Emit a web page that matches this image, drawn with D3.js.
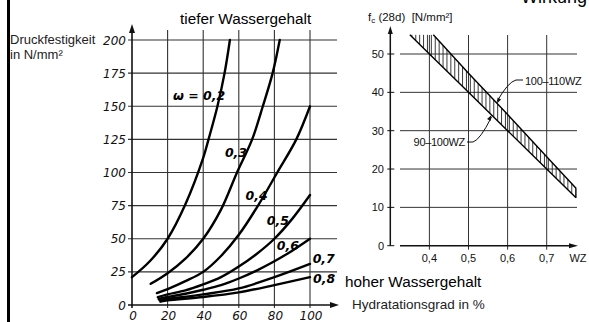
<!DOCTYPE html>
<html>
<head>
<meta charset="utf-8">
<script src="https://cdn.jsdelivr.net/npm/d3@7"></script>
<style>
  html, body { margin: 0; padding: 0; background: #fff; }
  svg { display: block; }
</style>
</head>
<body>
<div id="chart"></div>
<script>
// left chart: Druckfestigkeit vs Hydratationsgrad, one curve per w/z value
const hydrTicks = [0, 20, 40, 60, 80, 100];
const strengthTicks = [0, 25, 50, 75, 100, 125, 150, 175, 200];

const omega02 = [[0, 21], [10, 33], [20, 50], [30, 76], [40, 111], [43, 125], [48, 150], [52, 175], [55, 200]];
const omega03 = [[10.5, 16], [20, 24], [30, 35], [40, 50], [50, 72], [59, 100], [67.5, 125], [73.5, 150], [79, 175], [83, 200]];
const omega04 = [[14, 9], [20, 12], [30, 18], [40, 25], [50, 37], [60, 53], [70.8, 75], [81.6, 100], [92.3, 125], [100, 150]];
const omega05 = [[14.5, 6], [20, 8], [30, 11], [40, 15.5], [50, 21], [60, 29], [70, 38.5], [80, 50], [90, 65], [100, 83]];
const omega06 = [[15, 4.5], [20, 6], [30, 8.5], [40, 11.5], [50, 15], [60, 20], [70, 26], [80, 33], [90, 41], [100, 50]];
const omega07 = [[15.5, 3.5], [20, 4.5], [40, 8], [60, 12.5], [80, 21], [100, 31]];
const omega08 = [[16, 2.5], [20, 3.5], [40, 6], [60, 9.5], [80, 15], [100, 21]];
const omegaNames = ["ω = 0,2", "0,3", "0,4", "0,5", "0,6", "0,7", "0,8"];

// right chart: fc(28d) vs WZ, hatched band between two cement contents
const wzTicks = [0.4, 0.5, 0.6, 0.7];
const wzTickNames = ["0,4", "0,5", "0,6", "0,7"];
const fcTicks = [0, 10, 20, 30, 40, 50];
const band90 = [[0.35, 55], [0.4, 50], [0.5, 40], [0.6, 30], [0.7, 20], [0.775, 12.5]];
const band100 = [[0.41, 55], [0.5, 45], [0.6, 34.2], [0.7, 23.2], [0.775, 15]];
const bandNames = ["100–110WZ", "90–100WZ"];

const width = 589, height = 322;
const svg = d3.select("#chart").append("svg")
    .attr("width", width)
    .attr("height", height);

const ink = "#111";
const numFont = "DejaVu Sans, sans-serif";
const txtFont = "Liberation Sans, Arial, sans-serif";

// border line on the left
svg.append("line")
    .attr("x1", 8.5).attr("x2", 8.5).attr("y1", 0).attr("y2", height)
    .attr("stroke", "#000").attr("stroke-width", 3);

// top cut-off text (only its lower edge is inside the picture)
svg.append("text")
    .attr("x", 587).attr("y", 3)
    .attr("text-anchor", "end")
    .attr("font-family", txtFont).attr("font-size", 18)
    .attr("fill", "#000")
    .text("Wirkung");

// ---------- left chart ----------
const xL = d3.scaleLinear().domain([0, 100]).range([132, 310]);
const yL = d3.scaleLinear().domain([0, 200]).range([305, 40]);

const gl = svg.append("g");

// gridlines
gl.selectAll(".hgrid").data(strengthTicks.slice(1)).join("line")
    .attr("x1", xL(0) - 4).attr("x2", 337)
    .attr("y1", d => yL(d)).attr("y2", d => yL(d))
    .attr("stroke", "#333").attr("stroke-width", 1.1);
gl.selectAll(".vgrid").data(hydrTicks.slice(1)).join("line")
    .attr("x1", d => xL(d)).attr("x2", d => xL(d))
    .attr("y1", yL(0) + 3).attr("y2", 30)
    .attr("stroke", "#333").attr("stroke-width", 1.1);

// axes with arrows
gl.append("line")
    .attr("x1", xL(0)).attr("x2", xL(0)).attr("y1", yL(0) + 3).attr("y2", 30)
    .attr("stroke", ink).attr("stroke-width", 1.6);
gl.append("path")
    .attr("d", `M${xL(0)},24 L${xL(0) - 3},33 L${xL(0) + 3},33 Z`)
    .attr("fill", ink);
gl.append("line")
    .attr("x1", xL(0) - 4).attr("x2", 333).attr("y1", yL(0)).attr("y2", yL(0))
    .attr("stroke", ink).attr("stroke-width", 1.6);
gl.append("path")
    .attr("d", `M339,${yL(0)} L330,${yL(0) - 3} L330,${yL(0) + 3} Z`)
    .attr("fill", ink);

// tick labels
gl.selectAll(".ylab").data(strengthTicks).join("text")
    .attr("x", xL(0) - 6).attr("y", d => yL(d) + 4.5)
    .attr("text-anchor", "end")
    .attr("font-family", numFont).attr("font-style", "italic").attr("font-size", 12)
    .attr("fill", ink)
    .text(d => d);
gl.selectAll(".xlab").data(hydrTicks).join("text")
    .attr("x", d => xL(d) + 1).attr("y", 320)
    .attr("text-anchor", "middle")
    .attr("font-family", numFont).attr("font-style", "italic").attr("font-size", 12)
    .attr("fill", ink)
    .text(d => d);

// curves
const curves = [omega02, omega03, omega04, omega05, omega06, omega07, omega08];
const line = d3.line()
    .x(d => xL(d[0]))
    .y(d => yL(d[1]))
    .curve(d3.curveCatmullRom);
gl.selectAll(".curve").data(curves).join("path")
    .attr("d", line)
    .attr("fill", "none")
    .attr("stroke", "#000")
    .attr("stroke-width", 2.4)
    .attr("stroke-linecap", "round");

// curve labels (placed in data units)
const labelAt = [[23, 154.7], [52.2, 111.7], [63.8, 79.2], [75.7, 60.4], [81.3, 41.5], [101.5, 31.7], [101.7, 16.6]];
gl.selectAll(".clab").data(omegaNames).join("text")
    .attr("x", (d, i) => xL(labelAt[i][0]))
    .attr("y", (d, i) => yL(labelAt[i][1]))
    .attr("font-family", numFont).attr("font-style", "italic").attr("font-weight", "bold")
    .attr("font-size", 12.5)
    .attr("fill", "#000")
    .text(d => d);

// titles
svg.append("text")
    .attr("x", 10).attr("y", 44)
    .attr("font-family", txtFont).attr("font-size", 13).attr("fill", "#222")
    .text("Druckfestigkeit");
svg.append("text")
    .attr("x", 10).attr("y", 59)
    .attr("font-family", txtFont).attr("font-size", 13).attr("fill", "#222")
    .text("in N/mm²");
svg.append("text")
    .attr("x", 352).attr("y", 309)
    .attr("font-family", txtFont).attr("font-size", 13.5).attr("fill", "#222")
    .text("Hydratationsgrad in %");
svg.append("text")
    .attr("x", 180).attr("y", 24)
    .attr("font-family", txtFont).attr("font-size", 15.3).attr("fill", "#000")
    .text("tiefer Wassergehalt");
svg.append("text")
    .attr("x", 345).attr("y", 287)
    .attr("font-family", txtFont).attr("font-size", 15.3).attr("fill", "#000")
    .text("hoher Wassergehalt");

// ---------- right chart ----------
const xR = d3.scaleLinear().domain([0.3, 0.7]).range([390.3, 546.7]);
const yR = d3.scaleLinear().domain([0, 50]).range([245.7, 54]);

const gr = svg.append("g");

gr.selectAll(".hgrid").data(fcTicks.slice(1)).join("line")
    .attr("x1", 400).attr("x2", 577)
    .attr("y1", d => yR(d)).attr("y2", d => yR(d))
    .attr("stroke", "#333").attr("stroke-width", 1);
gr.selectAll(".htick").data(fcTicks).join("line")
    .attr("x1", xR(0.3) - 3).attr("x2", xR(0.3) + 4)
    .attr("y1", d => yR(d)).attr("y2", d => yR(d))
    .attr("stroke", ink).attr("stroke-width", 1);
gr.selectAll(".vgrid").data(wzTicks).join("line")
    .attr("x1", d => xR(d)).attr("x2", d => xR(d))
    .attr("y1", yR(0) + 4).attr("y2", 35)
    .attr("stroke", "#333").attr("stroke-width", 1);

// axes
gr.append("line")
    .attr("x1", xR(0.3)).attr("x2", xR(0.3)).attr("y1", yR(0)).attr("y2", 32)
    .attr("stroke", ink).attr("stroke-width", 1.5);
gr.append("path")
    .attr("d", `M${xR(0.3)},26 L${xR(0.3) - 2.5},34 L${xR(0.3) + 2.5},34 Z`)
    .attr("fill", ink);
gr.append("line")
    .attr("x1", 400).attr("x2", 571).attr("y1", yR(0)).attr("y2", yR(0))
    .attr("stroke", ink).attr("stroke-width", 1.5);
gr.append("path")
    .attr("d", `M578,${yR(0)} L569,${yR(0) - 2.5} L569,${yR(0) + 2.5} Z`)
    .attr("fill", ink);

gr.selectAll(".ylab").data(fcTicks).join("text")
    .attr("x", 384).attr("y", d => yR(d) + 4)
    .attr("text-anchor", "end")
    .attr("font-family", txtFont).attr("font-size", 11).attr("fill", ink)
    .text(d => d);
gr.selectAll(".xlab").data(wzTicks).join("text")
    .attr("x", d => xR(d)).attr("y", 262)
    .attr("text-anchor", "middle")
    .attr("font-family", txtFont).attr("font-size", 11).attr("fill", ink)
    .text((d, i) => wzTickNames[i]);
gr.append("text")
    .attr("x", 578).attr("y", 262)
    .attr("text-anchor", "middle")
    .attr("font-family", txtFont).attr("font-size", 11).attr("fill", ink)
    .text("WZ");

// title f_c (28d) [N/mm²]
const ttl = gr.append("text")
    .attr("x", 368).attr("y", 21)
    .attr("font-family", txtFont).attr("font-size", 11.5).attr("fill", ink);
ttl.append("tspan").text("f");
ttl.append("tspan").attr("font-size", 8).attr("dy", 2).text("c");
ttl.append("tspan").attr("dy", -2).attr("xml:space", "preserve").text(" (28d)  [N/mm²]");

// hatched band
const fLow = d3.scaleLinear().domain(band90.map(d => d[0])).range(band90.map(d => d[1]));
const fHigh = d3.scaleLinear().domain(band100.map(d => d[0])).range(band100.map(d => d[1])).clamp(true);
const fTop = d3.max(band90, d => d[1]);
const wStart = band90[0][0], wEnd = band90[band90.length - 1][0];
const hatchW = d3.range(xR(wStart) + 2, xR(wEnd), 3.9).map(px => xR.invert(px));
gr.selectAll(".hatch").data(hatchW).join("line")
    .attr("x1", d => xR(d)).attr("x2", d => xR(d))
    .attr("y1", d => yR(Math.min(fTop, d < band100[0][0] ? fTop : fHigh(d))))
    .attr("y2", d => yR(fLow(d)))
    .attr("stroke", "#222").attr("stroke-width", 0.9);
const bandLine = d3.line().x(d => xR(d[0])).y(d => yR(d[1]));
gr.selectAll(".bandline").data([band90, band100]).join("path")
    .attr("d", bandLine)
    .attr("fill", "none").attr("stroke", "#000").attr("stroke-width", 1.4);
gr.append("line")
    .attr("x1", xR(wEnd)).attr("x2", xR(wEnd))
    .attr("y1", yR(band100[band100.length - 1][1])).attr("y2", yR(fLow(wEnd)))
    .attr("stroke", "#000").attr("stroke-width", 1);

// leaders with arrows
const wUp = 0.573, wLo = 0.559;
const tipUp = [xR(wUp), yR(fHigh(wUp))];
const tipLo = [xR(wLo), yR(fLow(wLo))];
gr.append("path")
    .attr("d", `M523,80 L516,80 Q508,82 ${tipUp[0]},${tipUp[1] - 2}`)
    .attr("fill", "none").attr("stroke", ink).attr("stroke-width", 1);
gr.append("path")
    .attr("d", `M${tipUp[0]},${tipUp[1]} L${tipUp[0] + 0.5},${tipUp[1] - 6} L${tipUp[0] + 4},${tipUp[1] - 4} Z`)
    .attr("fill", ink);
gr.append("path")
    .attr("d", `M467,142 L473,142 Q480,140 ${tipLo[0]},${tipLo[1] + 2}`)
    .attr("fill", "none").attr("stroke", ink).attr("stroke-width", 1);
gr.append("path")
    .attr("d", `M${tipLo[0]},${tipLo[1]} L${tipLo[0] - 4.5},${tipLo[1] + 4} L${tipLo[0] - 1},${tipLo[1] + 6} Z`)
    .attr("fill", ink);
gr.append("text")
    .attr("x", 525).attr("y", 85)
    .attr("font-family", txtFont).attr("font-size", 11).attr("fill", ink)
    .attr("letter-spacing", -0.3)
    .text(bandNames[0]);
gr.append("text")
    .attr("x", 465).attr("y", 145.5)
    .attr("text-anchor", "end")
    .attr("font-family", txtFont).attr("font-size", 11).attr("fill", ink)
    .attr("letter-spacing", -0.3)
    .text(bandNames[1]);
</script>
</body>
</html>
